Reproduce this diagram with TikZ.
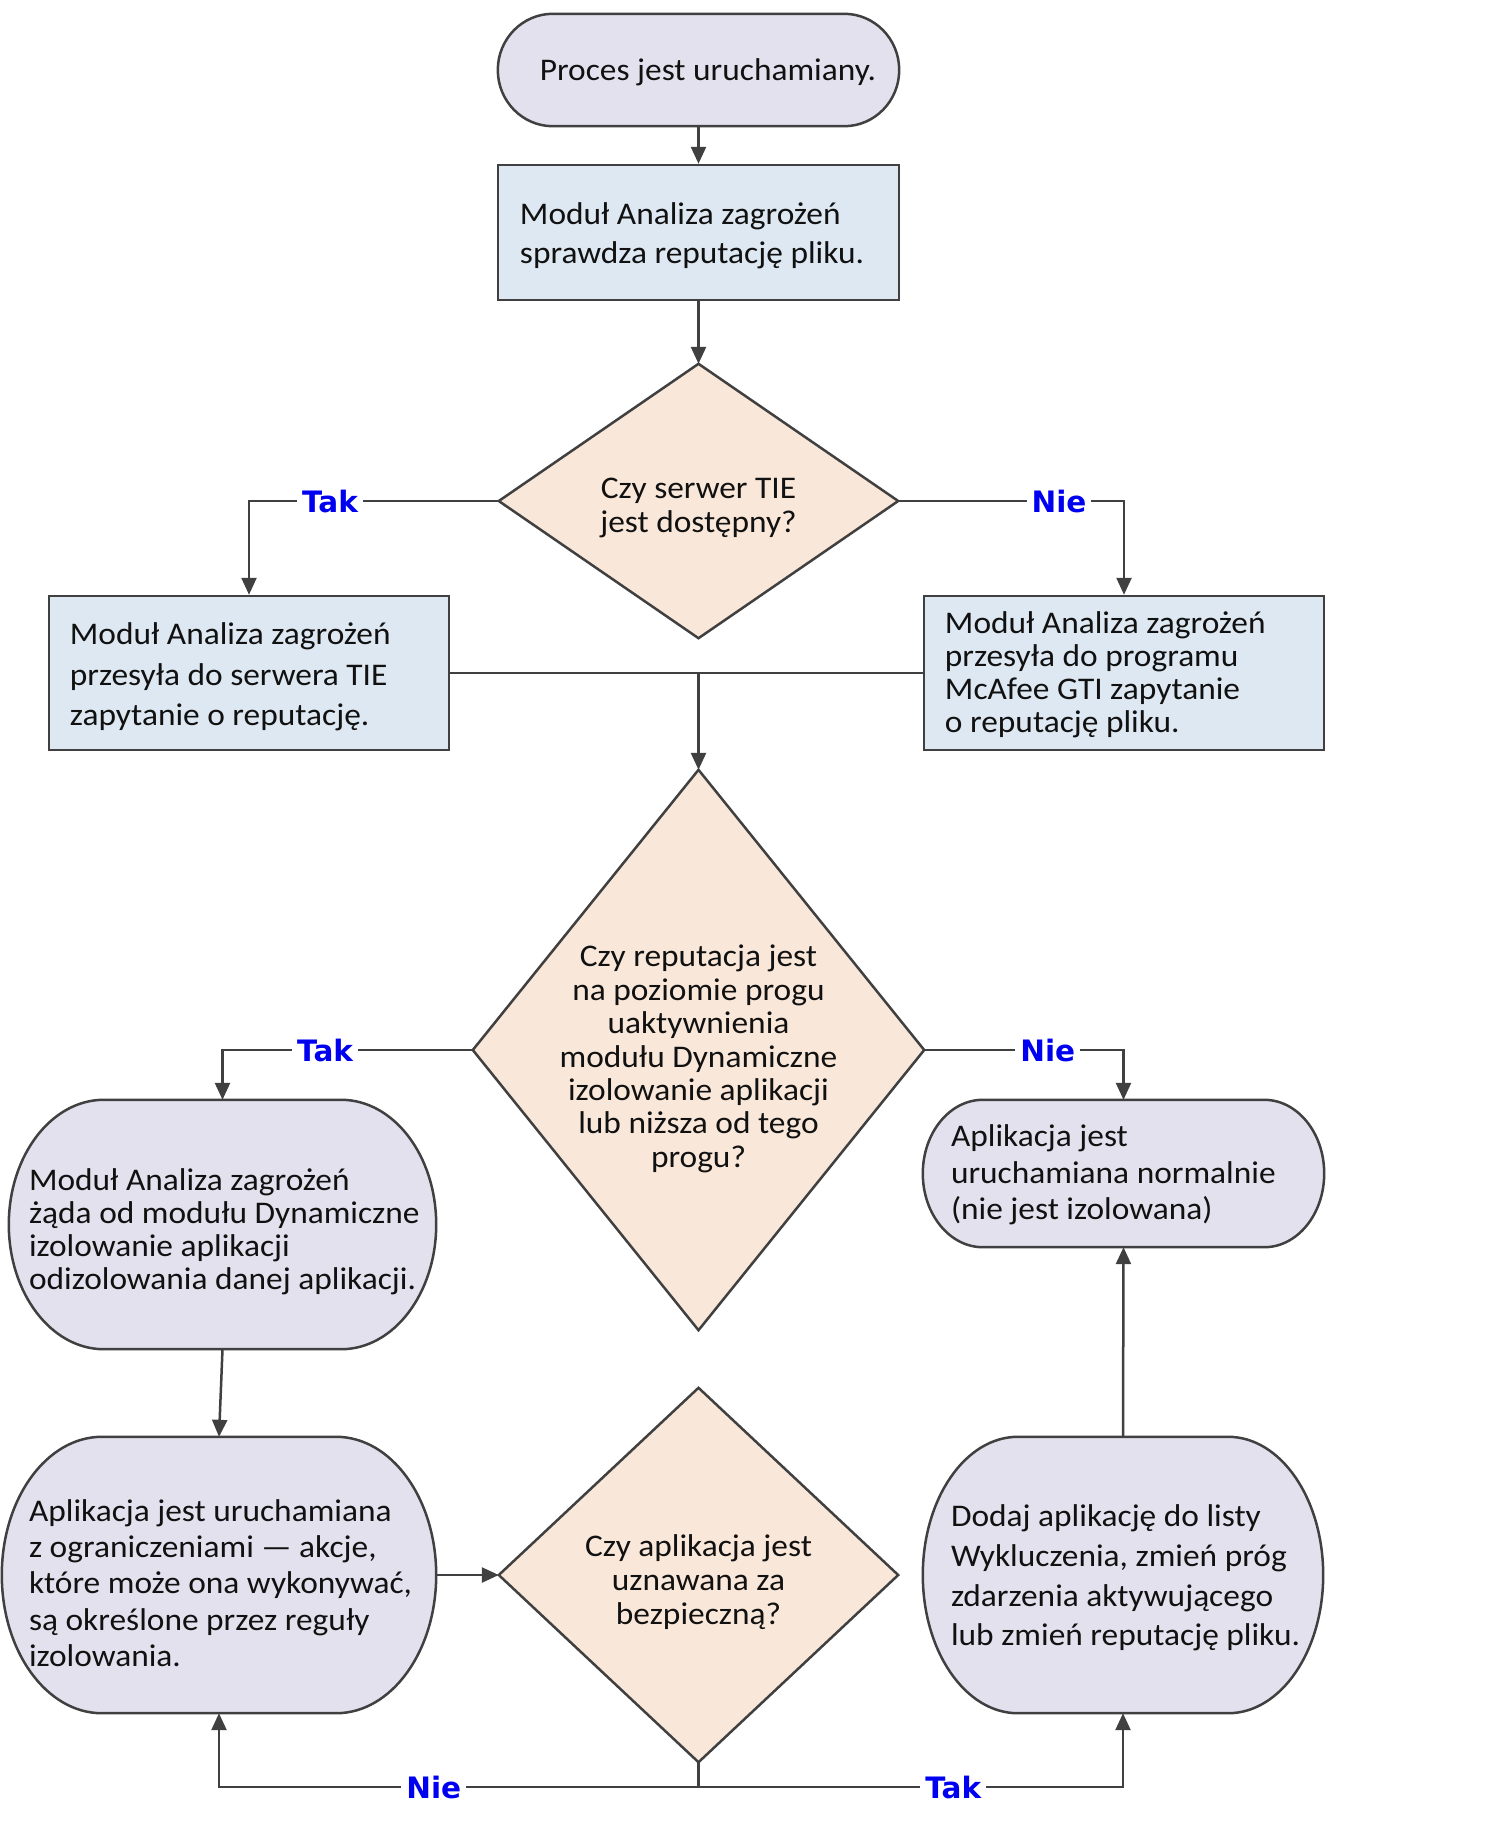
\documentclass[tikz,border=0pt]{standalone}
\usepackage{fontspec}
\setmainfont{Carlito}[FakeStretch=1.06]
\newfontfamily\lblfont{DejaVu Sans}
\usetikzlibrary{arrows.meta,calc}
\definecolor{lav}{HTML}{E4E1EE}
\definecolor{lblue}{HTML}{DEE8F2}
\definecolor{peach}{HTML}{F9E8DA}
\definecolor{lc}{HTML}{404040}
\definecolor{lblcol}{HTML}{0000F0}
\definecolor{txtc}{HTML}{111111}
\newcommand\capsuleshape[3]{%
  \path[shp,fill=#3] let \p1=(#1.north east), \p2=(#1.south west), \n1={(\y1-\y2)/2} in
    (\x2+#2pt,\y1) -- (\x1-#2pt,\y1)
    arc[start angle=90,end angle=-90,x radius=#2pt,y radius=\n1]
    -- (\x2+#2pt,\y2)
    arc[start angle=270,end angle=90,x radius=#2pt,y radius=\n1] -- cycle;}
\newcommand\diashape[1]{%
  \path[shp,fill=peach] (#1.north) -- (#1.east) -- (#1.south) -- (#1.west) -- cycle;}
\begin{document}
\begin{tikzpicture}[x=1pt,y=-1pt,
  shp/.style={draw=lc, line width=2.5pt, line join=miter},
  hold/.style={rectangle, draw=none, inner sep=0pt},
  boxst/.style={rectangle, draw=lc, fill=lblue, line width=2.5pt, inner sep=0pt},
  txt/.style={align=left, inner sep=0pt, text=txtc, font=\fontsize{31.5}{#1}\selectfont},
  ctxt/.style={align=center, inner sep=0pt, text=txtc, font=\fontsize{31.5}{#1}\selectfont},
  conn/.style={draw=lc, line width=2.5pt, -{Triangle[length=17pt,width=15pt]}},
  connl/.style={draw=lc, line width=2.5pt},
  lbl/.style={fill=white, text=lblcol, font={\lblfont\bfseries\fontsize{29.5}{30}\selectfont}, inner xsep=5pt, inner ysep=2pt}
]
\fill[white] (0,0) rectangle (1502,1829);
\useasboundingbox (0,0) rectangle (1502,1829);

% start terminal
\node[hold, minimum width=401pt, minimum height=112pt] (term) at (698.5,70) {};
\capsuleshape{term}{55}{lav}
\node[ctxt=34] (termt) at (708,72.5) {Proces jest uruchamiany.};

% box 1
\node[boxst, minimum width=401pt, minimum height=135pt] (box1) at (698.5,232.5) {};
\node[txt=39, anchor=west] (box1t) at ([shift={(23,3.5)}]box1.west) {Moduł Analiza zagrożeń\\sprawdza reputację pliku.};

% diamond 1
\node[hold, minimum width=399pt, minimum height=274pt] (dia1) at (698.5,501) {};
\diashape{dia1}
\node[ctxt=34] (dia1t) at ([shift={(0,7)}]dia1.center) {Czy serwer TIE\\jest dostępny?};

% box 2 and box 3
\node[boxst, minimum width=400pt, minimum height=154pt] (box2) at (249,673) {};
\node[txt=40.5, anchor=west] (box2t) at ([shift={(22,4)}]box2.west) {Moduł Analiza zagrożeń\\przesyła do serwera TIE\\zapytanie o reputację.};
\node[boxst, minimum width=400pt, minimum height=154pt] (box3) at (1124,673) {};
\node[txt=33, anchor=west] (box3t) at ([shift={(22,1.5)}]box3.west) {Moduł Analiza zagrożeń\\przesyła do programu\\McAfee GTI zapytanie\\o reputację pliku.};

% diamond 2
\node[hold, minimum width=451pt, minimum height=560pt] (dia2) at (698.5,1050) {};
\diashape{dia2}
\node[ctxt=33.4] (dia2t) at ([shift={(0,9)}]dia2.center) {Czy reputacja jest\\na poziomie progu\\uaktywnienia\\modułu Dynamiczne\\izolowanie aplikacji\\lub niższa od tego\\progu?};

% box 4
\node[hold, minimum width=427pt, minimum height=249pt] (box4) at (222.5,1224.5) {};
\capsuleshape{box4}{95}{lav}
\node[txt=33, anchor=west] (box4t) at ([shift={(20,7)}]box4.west) {Moduł Analiza zagrożeń\\żąda od modułu Dynamiczne\\izolowanie aplikacji\\odizolowania danej aplikacji.};

% box 5
\node[hold, minimum width=401pt, minimum height=147pt] (box5) at (1123.5,1173.5) {};
\capsuleshape{box5}{60}{lav}
\node[txt=36.5, anchor=west] (box5t) at ([shift={(28,1.5)}]box5.west) {Aplikacja jest\\uruchamiana normalnie\\(nie jest izolowana)};

% box 6
\node[hold, minimum width=434pt, minimum height=276pt] (box6) at (219,1575) {};
\capsuleshape{box6}{100}{lav}
\node[txt=36.4, anchor=west] (box6t) at ([shift={(27,8)}]box6.west) {Aplikacja jest uruchamiana\\z ograniczeniami — akcje,\\które może ona wykonywać,\\są określone przez reguły\\izolowania.};

% diamond 3
\node[hold, minimum width=399pt, minimum height=374pt] (dia3) at (698.5,1575) {};
\diashape{dia3}
\node[ctxt=34] (dia3t) at ([shift={(0,7)}]dia3.center) {Czy aplikacja jest\\uznawana za\\bezpieczną?};

% box 7
\node[hold, minimum width=400pt, minimum height=276pt] (box7) at (1123,1575) {};
\capsuleshape{box7}{95}{lav}
\node[txt=39.6, anchor=west] (box7t) at ([shift={(28,3)}]box7.west) {Dodaj aplikację do listy\\Wykluczenia, zmień próg\\zdarzenia aktywującego\\lub zmień reputację pliku.};

% connectors
\draw[conn] (term.south) -- (box1.north);
\draw[conn] (box1.south) -- (dia1.north);
\draw[conn] (dia1.west) -| node[lbl,pos=0.338] (l1) {Tak} (box2.north);
\draw[conn] (dia1.east) -| node[lbl,pos=0.356] (l2) {Nie} (box3.north);
\draw[connl] (box2.east) -- (box3.west);
\coordinate (mrg) at (dia2.north |- box2.east);
\draw[conn] (mrg) -- (dia2.north);
\draw[conn] (dia2.west) -| node[lbl,pos=0.295] (l3) {Tak} (box4.north);
\draw[conn] (dia2.east) -| node[lbl,pos=0.31] (l4) {Nie} (box5.north);
\draw[conn] (box4.south) -- (box6.north);
\draw[conn] (box6.east) -- (dia3.west);
\coordinate (bot) at ($(dia3.south)+(0,25)$);
\draw[connl] (dia3.south) -- (bot);
\draw[conn] (bot) -| node[lbl,pos=0.276] (l5) {Nie} (box6.south);
\draw[conn] (bot) -| node[lbl,pos=0.30] (l6) {Tak} (box7.south);
\draw[conn] (box7.north) -- (box5.south);
\end{tikzpicture}
\end{document}
